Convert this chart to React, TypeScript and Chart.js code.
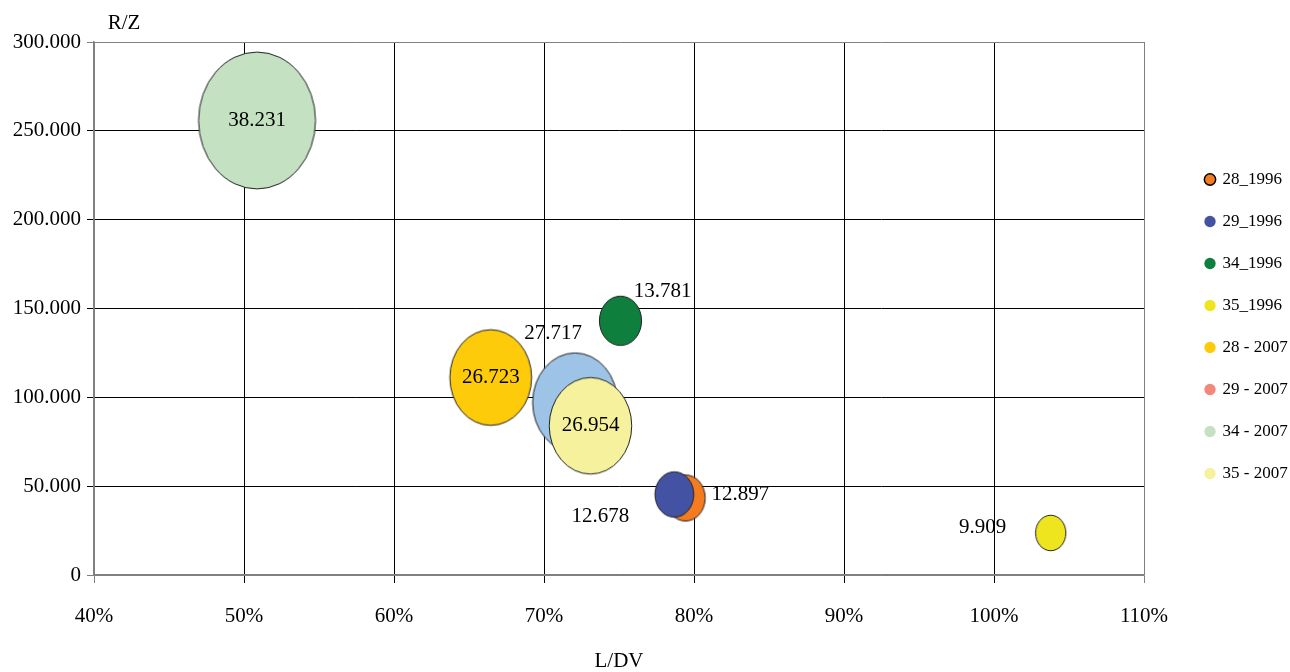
import React, { useEffect, useRef } from 'react';
import { Chart, registerables } from 'chart.js';

Chart.register(...registerables);

// ---------- data ----------
const seriesNames = ['28_1996', '29_1996', '34_1996', '35_1996', '28 - 2007', '29 - 2007', '34 - 2007', '35 - 2007'];
const ldvValues = [79.43, 78.69, 75.1, 103.78, 66.45, 72.07, 50.87, 73.1]; // L/DV in %
const rzValues = [43340, 45310, 143080, 23640, 111160, 97090, 255820, 83980]; // R/Z
const bubbleSizes = [12.897, 12.678, 13.781, 9.909, 26.723, 27.717, 38.231, 26.954];
const xTickValues = [40, 50, 60, 70, 80, 90, 100, 110];
const yTickValues = [0, 50000, 100000, 150000, 200000, 250000, 300000];

// ---------- styles ----------
const bubbleColors = ['#F47B20', '#4352A3', '#0F7F3E', '#EEE51E', '#FDCB0A', '#9DC3E6', '#C4E1C2', '#F5F19C'];
const legendColors = ['#F47B20', '#4352A3', '#0F7F3E', '#EEE51E', '#FDCB0A', '#F4877B', '#C4E1C2', '#F5F19C'];
const labelOffsets: [number, number][] = [
  [55, -4], [-74, 22], [42, -29], [-68, -6], [0, 0], [-22, -69], [0, 0], [0, 0],
];
const PX_PER_UNIT = 1.53;
const ASPECT = 1.17;
const FONT = '"Liberation Serif", "Times New Roman", serif';
const LEGEND_WIDTH = 146;

const imgCache = new Map<string, HTMLCanvasElement>();
function ellipseImage(color: string, r: number): HTMLCanvasElement {
  const key = color + '|' + r;
  const hit = imgCache.get(key);
  if (hit) return hit;
  const c = document.createElement('canvas');
  c.width = Math.ceil(2 * r + 4);
  c.height = Math.ceil(2 * r * ASPECT + 4);
  const g = c.getContext('2d')!;
  g.beginPath();
  g.ellipse(c.width / 2, c.height / 2, r, r * ASPECT, 0, 0, Math.PI * 2);
  g.fillStyle = color;
  g.fill();
  g.lineWidth = 1;
  g.strokeStyle = '#222';
  g.stroke();
  imgCache.set(key, c);
  return c;
}

const labelPlugin = {
  id: 'bubbleLabels',
  afterDatasetsDraw(chart: any) {
    const ctx = chart.ctx;
    ctx.save();
    ctx.font = `21px ${FONT}`;
    ctx.fillStyle = '#000';
    ctx.textAlign = 'center';
    ctx.textBaseline = 'middle';
    chart.data.datasets.forEach((_ds: any, i: number) => {
      const el = chart.getDatasetMeta(i).data[0];
      if (!el) return;
      const [dx, dy] = labelOffsets[i];
      ctx.fillText(bubbleSizes[i].toFixed(3), el.x + dx, el.y + dy);
    });
    ctx.fillText('R/Z', chart.chartArea.left + 30, chart.chartArea.top - 19);
    ctx.restore();
  },
};

const legendPlacer = {
  id: 'legendPlacer',
  beforeLayout(chart: any) {
    const lg = chart.legend;
    if (lg && !lg.__patched) {
      const orig = lg.fit.bind(lg);
      lg.fit = function () {
        orig();
        this.width = LEGEND_WIDTH;
      };
      lg.__patched = true;
    }
  },
  afterLayout(chart: any) {
    const lg = chart.legend;
    if (!lg) return;
    lg.left = chart.chartArea.right + 37;
    lg.top = chart.chartArea.top + 104;
    lg.right = chart.width;
    lg.bottom = chart.height;
  },
};

export default function App() {
  const ref = useRef<HTMLCanvasElement>(null);
  useEffect(() => {
    document.body.style.margin = '0';
    Chart.defaults.font.family = FONT;
    Chart.defaults.color = '#000';
    const chart = new Chart(ref.current!, {
      type: 'bubble',
      data: {
        datasets: seriesNames.map((name, i) => ({
          label: name,
          data: [{ x: ldvValues[i], y: rzValues[i], r: bubbleSizes[i] * PX_PER_UNIT }],
          backgroundColor: bubbleColors[i],
          borderColor: '#222',
          borderWidth: 1,
          order: -i,
          pointStyle: (c: any) =>
            c.raw && c.raw.r ? ellipseImage(bubbleColors[i], c.raw.r) : 'circle',
        })),
      },
      options: {
        responsive: false,
        maintainAspectRatio: false,
        animation: false,
        events: [],
        layout: { autoPadding: false, padding: { top: 42, left: 0, right: 0, bottom: 0 } },
        plugins: {
          tooltip: { enabled: false },
          legend: {
            display: true,
            position: 'right',
            align: 'start',
            labels: {
              usePointStyle: true,
              boxWidth: 8,
              boxHeight: 8,
              padding: 25,
              color: '#000',
              font: { size: 17, family: FONT },
              generateLabels: () =>
                seriesNames.map((name, i) => ({
                  text: name,
                  fillStyle: legendColors[i],
                  strokeStyle: i === 0 ? '#000' : legendColors[i],
                  lineWidth: i === 0 ? 1.5 : 0,
                  pointStyle: 'circle',
                  hidden: false,
                  datasetIndex: i,
                  fontColor: '#000',
                })),
            },
          },
        },
        scales: {
          x: {
            type: 'linear',
            min: 40,
            max: 110,
            afterBuildTicks: (s: any) => {
              s.ticks = xTickValues.map((v) => ({ value: v }));
            },
            afterFit: (s: any) => {
              s.height = 97;
            },
            ticks: {
              callback: (v: any) => `${v}%`,
              font: { size: 21, family: FONT },
              color: '#000',
              padding: 21,
              maxRotation: 0,
              autoSkip: false,
            },
            grid: {
              color: (c: any) =>
                c.tick && (c.tick.value === 40 || c.tick.value === 110) ? '#808080' : '#000',
              lineWidth: 1,
              tickLength: 8,
            },
            border: { color: '#808080', width: 1.5 },
            title: {
              display: true,
              text: 'L/DV',
              font: { size: 21, family: FONT },
              color: '#000',
              padding: { top: 0, bottom: -2 },
            },
          },
          y: {
            type: 'linear',
            min: 0,
            max: 300000,
            afterBuildTicks: (s: any) => {
              s.ticks = yTickValues.map((v) => ({ value: v }));
            },
            afterFit: (s: any) => {
              s.width = 94;
            },
            ticks: {
              callback: (v: any) => (v === 0 ? '0' : (Number(v) / 1000).toFixed(3)),
              font: { size: 21, family: FONT },
              color: '#000',
              padding: 6,
              autoSkip: false,
            },
            grid: {
              color: (c: any) =>
                c.tick && (c.tick.value === 0 || c.tick.value === 300000) ? '#808080' : '#000',
              lineWidth: 1,
              tickLength: 7,
            },
            border: { color: '#808080', width: 1.5 },
          },
        },
      } as any,
      plugins: [labelPlugin, legendPlacer],
    } as any);
    return () => chart.destroy();
  }, []);
  return (
    <div style={{ width: 1290, height: 672, background: '#fff' }}>
      <canvas ref={ref} width={1290} height={672} style={{ display: 'block', width: 1290, height: 672 }} />
    </div>
  );
}
